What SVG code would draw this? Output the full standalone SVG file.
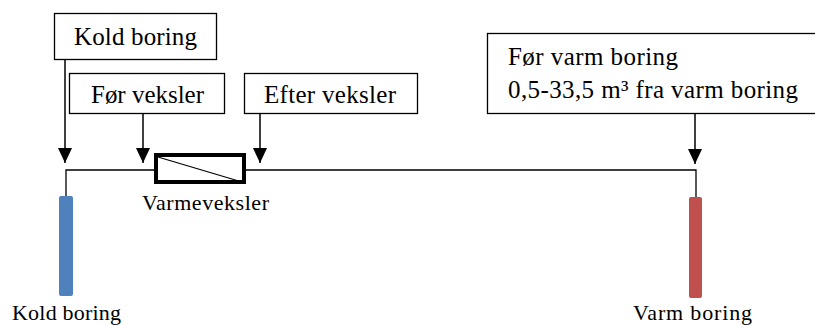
<svg xmlns="http://www.w3.org/2000/svg" width="815" height="325" viewBox="0 0 815 325">
<style>
.box{fill:#fff;stroke:#000;stroke-width:1.3}
.t{font-family:"Liberation Serif","DejaVu Serif",serif;fill:#000}
.big{font-size:25px}
.small{font-size:22px}
.arr{stroke:#000;stroke-width:1.5;fill:none}
.pipe{stroke:#000;stroke-width:1.3;fill:none}
</style>
<defs>
<marker id="ah" markerUnits="userSpaceOnUse" markerWidth="16" markerHeight="16" viewBox="0 0 16 16" refX="15" refY="8" orient="auto">
<path d="M0,1 L15,8 L0,15 Z" fill="#000"/>
</marker>
</defs>
<g id="connectors">
<line class="arr" x1="65" y1="60" x2="65" y2="163" marker-end="url(#ah)"/>
<line class="arr" x1="143" y1="114" x2="143" y2="163" marker-end="url(#ah)"/>
<line class="arr" x1="260" y1="114" x2="260" y2="163" marker-end="url(#ah)"/>
<line class="arr" x1="695" y1="114" x2="695" y2="164" marker-end="url(#ah)"/>
<path class="pipe" d="M66,197 V170 H696 V197"/>
</g>
<g id="kold-boring-label">
<rect class="box" x="54.5" y="13.5" width="162" height="46"/>
<text class="t big" x="74" y="45" textLength="123">Kold boring</text>
</g>
<g id="foer-veksler">
<rect class="box" x="69.5" y="73.5" width="155" height="40"/>
<text class="t big" x="91" y="103" textLength="113">Før veksler</text>
</g>
<g id="efter-veksler">
<rect class="box" x="244.5" y="73.5" width="173" height="40"/>
<text class="t big" x="264" y="103" textLength="132">Efter veksler</text>
</g>
<g id="foer-varm-boring">
<rect class="box" x="487.5" y="33.5" width="340" height="80"/>
<text class="t big" x="508" y="65" textLength="170">Før varm boring</text>
<text class="t big" x="508" y="98" textLength="290">0,5-33,5 m³ fra varm boring</text>
</g>
<g id="varmeveksler">
<rect x="156" y="155" width="88" height="27" fill="#fff" stroke="#000" stroke-width="4"/>
<line x1="158" y1="157" x2="242" y2="182" stroke="#000" stroke-width="1.3"/>
<text class="t small" x="142" y="210" textLength="127">Varmeveksler</text>
</g>
<g id="kold-boring">
<rect x="59" y="196" width="14" height="100" rx="2" fill="#4F81BD"/>
<text class="t small" x="12" y="320" textLength="109">Kold boring</text>
</g>
<g id="varm-boring">
<rect x="689" y="197" width="13" height="101" rx="2" fill="#C0504D"/>
<text class="t small" x="633" y="320" textLength="119">Varm boring</text>
</g>
</svg>
